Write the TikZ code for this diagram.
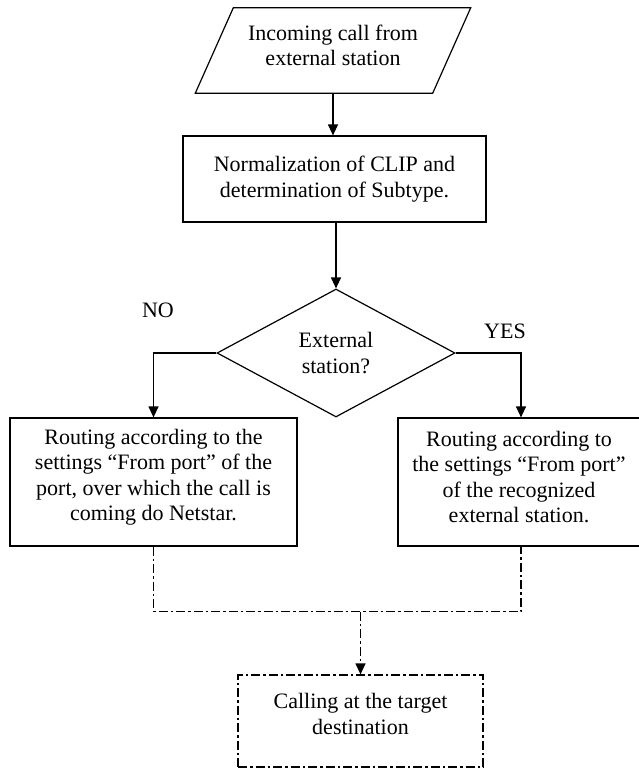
\documentclass[tikz,border=0pt]{standalone}
\usepackage{fontspec}
\setmainfont{Liberation Serif}
\usetikzlibrary{shapes.geometric,arrows.meta}
\begin{document}
\begin{tikzpicture}[x=1pt,y=-1pt,
  every node/.style={font=\fontsize{22}{25.5}\selectfont, inner sep=0pt, align=center},
  box/.style={draw, line width=1.2pt, rectangle},
  flow/.style={line width=1.2pt, -{Triangle[length=11pt,width=10pt]}},
  dd/.style={line width=1.2pt, dash pattern=on 9pt off 3pt on 2.5pt off 3pt}
]
\useasboundingbox (0,0) rectangle (638,769);
\fill[white] (0,0) rectangle (638,769);
% input parallelogram
\node (p) [minimum width=199pt, minimum height=85pt,
  label={[yshift=5pt]center:{Incoming call from\\external station}}] at (333,50.5) {};
\draw[line width=1.2pt] (p.north west) -- ([xshift=38pt]p.north east) -- (p.south east) -- ([xshift=-38pt]p.south west) -- cycle;
% process
\node (n) [box, minimum width=303pt, minimum height=86pt] at (334.5,179) {Normalization of CLIP and\\determination of Subtype.};
% decision
\node (d) [draw, diamond, line width=1.2pt, aspect=2, minimum width=238pt, minimum height=128pt] at (336,353) {External\\station?};
% branches
\node (l) [box, minimum width=287pt, minimum height=128pt,
  label={[yshift=5pt]center:{Routing according to the\\settings “From port” of the\\port, over which the call is\\coming do Netstar.}}] at (153.5,482) {};
\node (r) [box, minimum width=246pt, minimum height=128pt,
  label={[yshift=5pt, xshift=-2pt]center:{Routing according to\\the settings “From port”\\of the recognized\\external station.}}] at (521,482) {};
% target
\node (t) [draw, dd, minimum width=245pt, minimum height=92pt,
  label={[yshift=7pt]center:{Calling at the target\\destination}}] at (360.5,721) {};
% labels
\node (no) at (158,310) {NO};
\node (yes) at (505,331) {YES};
% connectors
\draw[flow] (p.south) -- (p.south |- n.north);
\draw[flow] (d.north |- n.south) -- (d.north);
\draw[flow] (d.west) -| (l.north);
\draw[flow] (d.east) -| (r.north);
\path (l.south) ++(0,65) coordinate (jl);
\coordinate (jm) at (jl -| t.north);
\draw[dd] (l.south) -- (jl) -| (r.south);
\draw[dd, -{Triangle[length=11pt,width=10pt]}] (jm) -- (t.north);
\end{tikzpicture}
\end{document}
